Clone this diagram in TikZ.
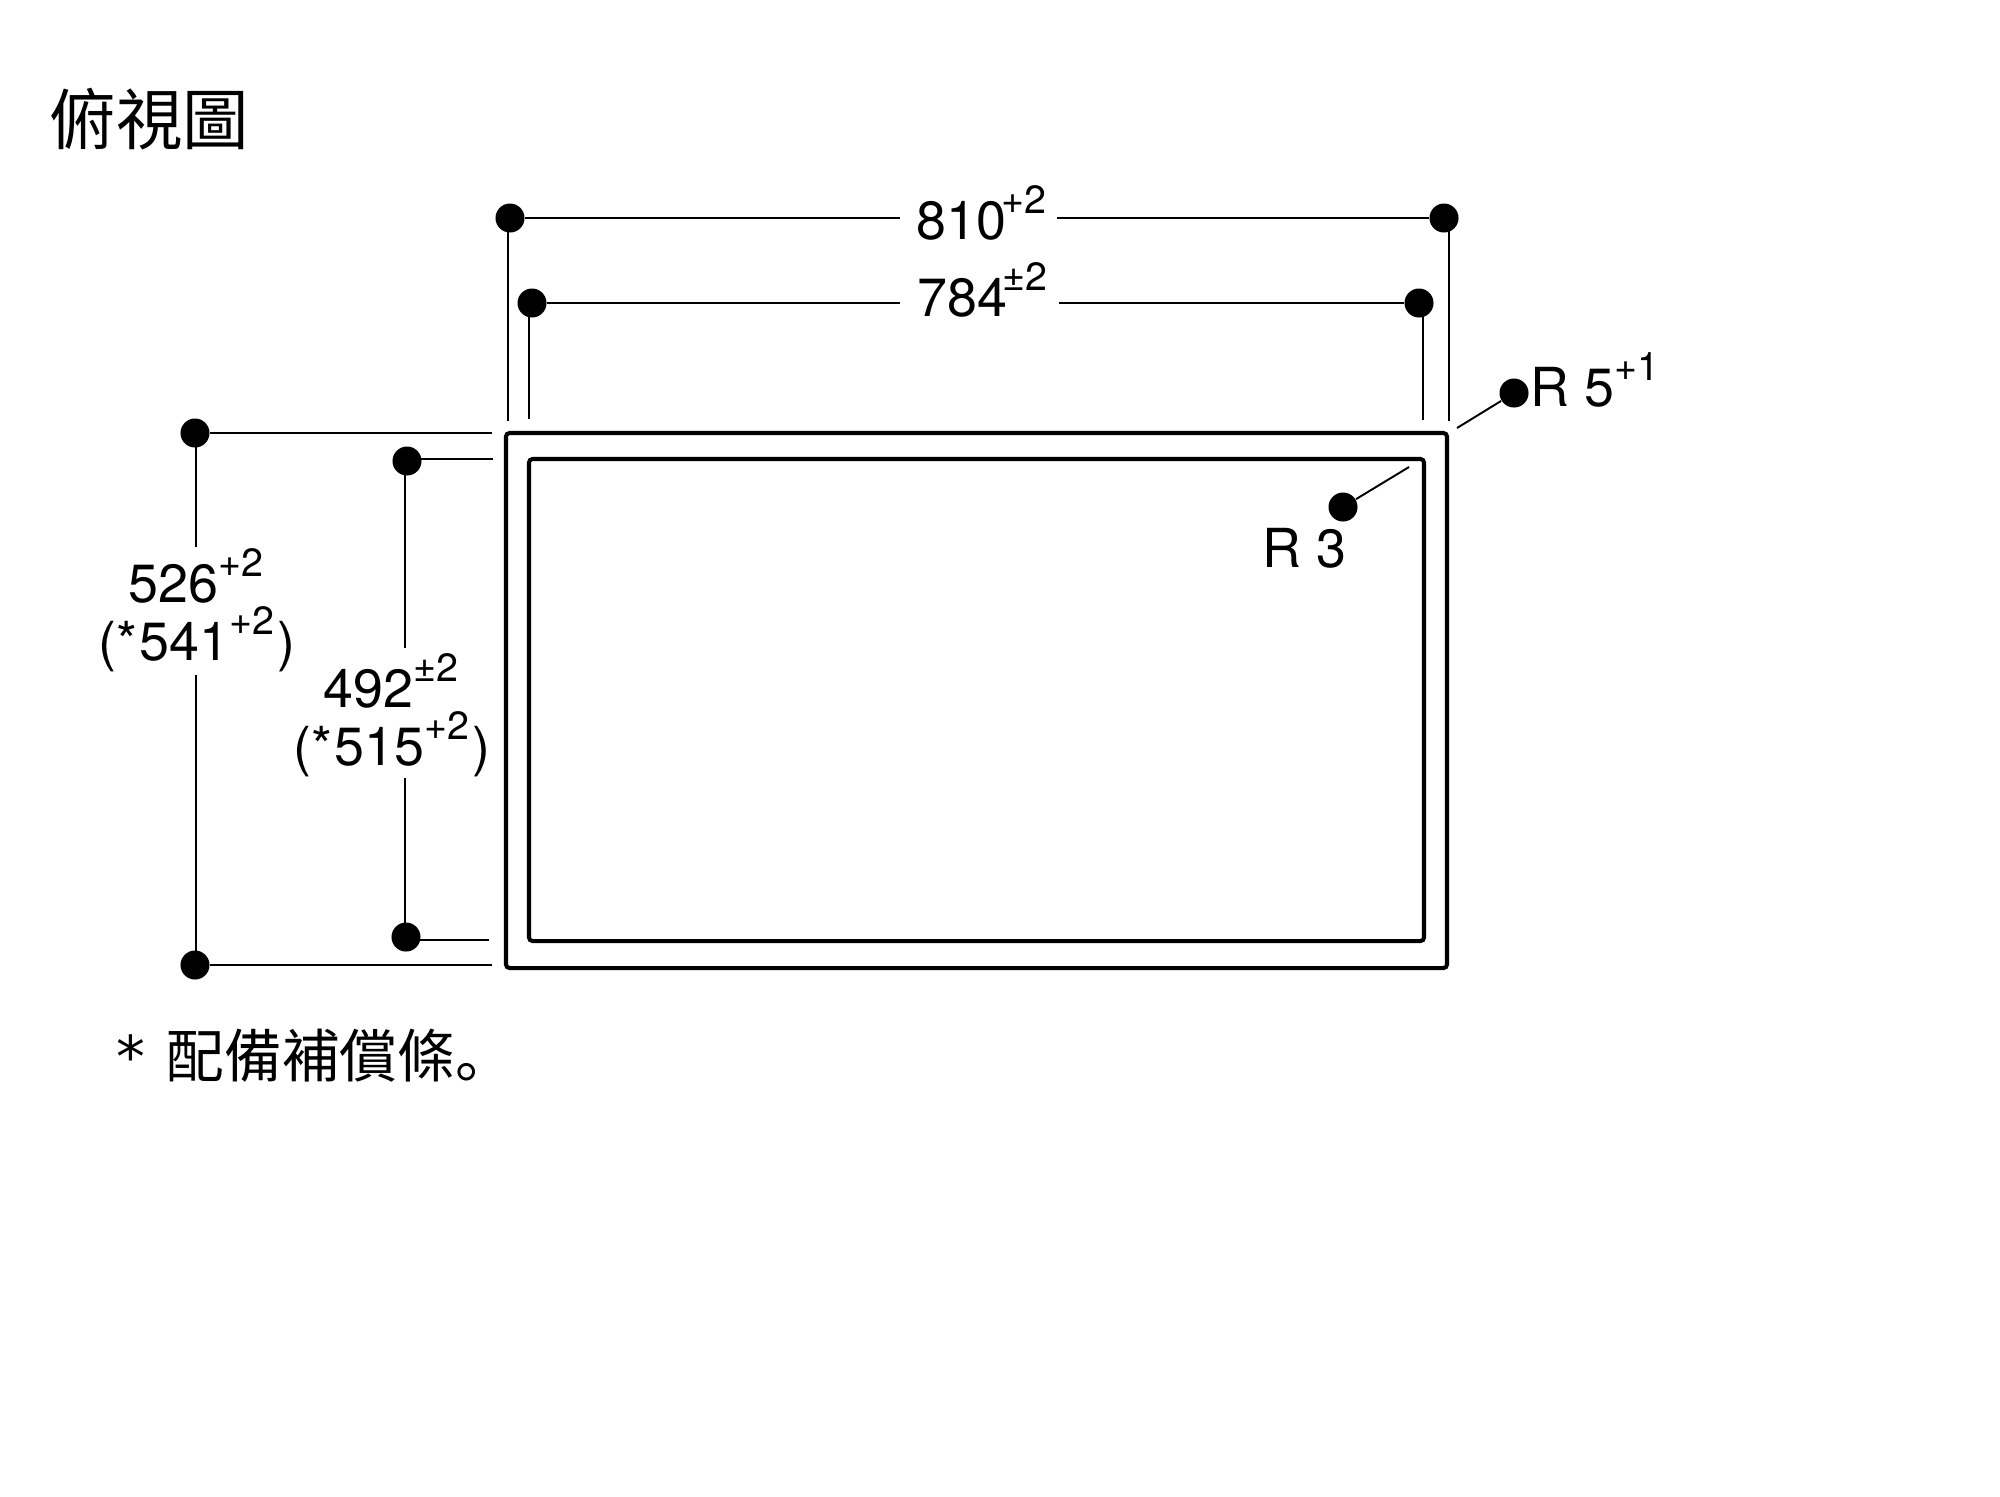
\documentclass[tikz,border=0pt]{standalone}
\usepackage{fontspec}
\setmainfont{TeX Gyre Heros}
\newfontfamily\cjk{Noto Sans CJK TC}
\newfontfamily\cjksc{Noto Sans CJK SC}
\newfontfamily\starfont{DejaVu Sans}
\newcommand{\tol}[1]{\raisebox{7.2pt}{\fontsize{11.2}{11.2}\selectfont #1}}
\tikzset{
  dimline/.style={line width=0.55pt},
  frameline/.style={line width=1.15pt,rounded corners=1pt},
  dimdot/.style={circle,fill=black,inner sep=0pt,minimum size=0.29cm},
  dimtext/.style={anchor=base west,inner sep=0pt,font=\fontsize{15.3}{15.3}\selectfont},
}
\begin{document}
\begin{tikzpicture}[x=0.01cm,y=-0.01cm]
\useasboundingbox (0,0) rectangle (2000,1496);
\node (title) at (49,144) [anchor=base west,inner sep=0pt,font=\fontsize{18.9}{18.9}\selectfont\cjk] {俯視圖};

\draw[frameline] (506,433) rectangle (1447,968);
\draw[frameline] (529,459) rectangle (1424,941);

% width
\node (w810) at (916,239) [dimtext] {810\kern-1.3pt\tol{+2}};
\node (w784) at (917,316) [dimtext] {784\kern-1.3pt\tol{±2}};
\node (wl) at (510,218) [dimdot] {};
\node (wr) at (1444,218) [dimdot] {};
\node (il) at (532,303) [dimdot] {};
\node (ir) at (1419,303) [dimdot] {};
\coordinate (wlgap) at (900,218);
\coordinate (wrgap) at (1057,218);
\coordinate (ilgap) at (900,303);
\coordinate (irgap) at (1059,303);
\coordinate (wlfoot) at (508,421);
\coordinate (wrfoot) at (1449,421);
\coordinate (ilfoot) at (529,419);
\coordinate (irfoot) at (1423,420);
\draw[dimline] (wl) to (wlgap);
\draw[dimline] (wrgap) to (wr);
\draw[dimline] (il) to (ilgap);
\draw[dimline] (irgap) to (ir);
\draw[dimline] (wlfoot |- wl) to (wlfoot);
\draw[dimline] (wrfoot |- wr) to (wrfoot);
\draw[dimline] (ilfoot |- il) to (ilfoot);
\draw[dimline] (irfoot |- ir) to (irfoot);

% height
\node (h526) at (128,602) [dimtext] {526\tol{+2}};
\node (h541) at (98,660) [dimtext] {(*\kern0.7pt 541\tol{+2}\kern0.7pt)};
\node (h492) at (323,707) [dimtext] {492\tol{±2}};
\node (h515) at (293,765) [dimtext] {(*\kern0.7pt 515\tol{+2}\kern0.7pt)};
\node (ht) at (195,433) [dimdot] {};
\node (hb) at (195,965) [dimdot] {};
\node (jt) at (407,461) [dimdot] {};
\node (jb) at (406,937) [dimdot] {};
\coordinate (htend) at (492,433);
\coordinate (hbend) at (492,965);
\coordinate (jtend) at (493,459);
\coordinate (jbend) at (489,940);
\coordinate (htgap) at (196,547);
\coordinate (hbgap) at (196,675);
\coordinate (jtgap) at (405,648);
\coordinate (jbgap) at (405,778);
\draw[dimline] (ht) to (htend);
\draw[dimline] (hb) to (hbend);
\draw[dimline] (jt.center |- jtend) to (jtend);
\draw[dimline] (jb.center |- jbend) to (jbend);
\draw[dimline] (htgap |- ht) to (htgap);
\draw[dimline] (hbgap) to (hbgap |- hb);
\draw[dimline] (jtgap |- jt) to (jtgap);
\draw[dimline] (jbgap) to (jbgap |- jb);

% radii
\node (r5) at (1530,406) [dimtext] {R 5\tol{+1}};
\node (r3) at (1262,567) [dimtext] {R 3};
\node (rfive) at (1514,393) [dimdot] {};
\node (rthree) at (1343,507) [dimdot] {};
\coordinate (rfiveend) at (1457,428);
\coordinate (rthreeend) at (1409,467);
\draw[dimline] (rfive) to (rfiveend);
\draw[dimline] (rthree) to (rthreeend);

\node (note) at (116,1077) [anchor=base west,inner sep=0pt,font=\fontsize{16.4}{16.4}\selectfont\cjk] {{\starfont *} \kern2.4pt 配備補償條{\cjksc 。}};
\end{tikzpicture}
\end{document}
